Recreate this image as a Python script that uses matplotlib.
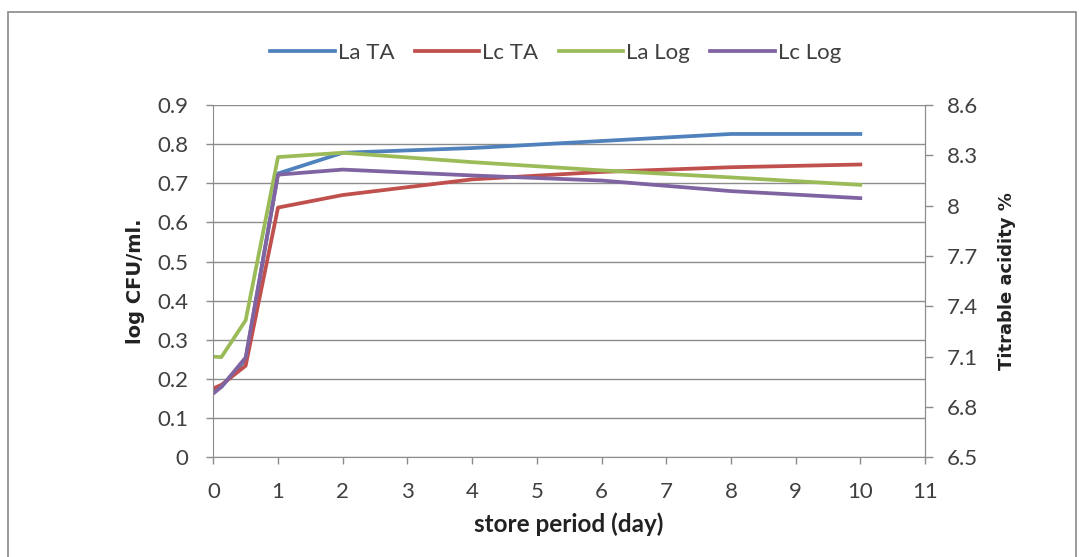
import numpy as np
import matplotlib.pyplot as plt
from matplotlib.patches import Rectangle

# storage days and readings
days = [0, 0.125, 0.5, 1, 2, 4, 6, 8, 10]
la_ta = [0.17, 0.18, 0.25, 0.725, 0.778, 0.79, 0.808, 0.826, 0.826]
lc_ta = [0.176, 0.185, 0.234, 0.638, 0.67, 0.71, 0.729, 0.741, 0.748]
la_log = [0.257, 0.256, 0.35, 0.767, 0.778, 0.754, 0.733, 0.715, 0.696]
lc_log = [0.163, 0.18, 0.255, 0.722, 0.735, 0.72, 0.707, 0.68, 0.662]

series = [("La TA", la_ta, "#4F81BD"),
          ("Lc TA", lc_ta, "#C0504D"),
          ("La Log", la_log, "#9BBB59"),
          ("Lc Log", lc_log, "#8064A2")]

left_ticks = [0, 0.1, 0.2, 0.3, 0.4, 0.5, 0.6, 0.7, 0.8, 0.9]
right_ticks = [6.5, 6.8, 7.1, 7.4, 7.7, 8, 8.3, 8.6]
x_ticks = list(range(0, 12))

plt.rcParams['font.family'] = ['Lato', 'DejaVu Sans']
txt = "#404040"
grid = "#8c8c8c"
fs = 16

fig = plt.figure(figsize=(10.79, 5.57), dpi=100)
fig.patches.append(Rectangle((8 / 1079, -0.1), 1068 / 1079, 1.1 - 12 / 557,
                             transform=fig.transFigure, fill=False,
                             edgecolor="#8a8a8a", linewidth=1.2))

ax = fig.add_axes([0.1977, 0.179, 0.8573 - 0.1977, 0.8115 - 0.179])
for name, vals, col in series:
    ax.plot(days, vals, color=col, linewidth=2.7, label=name)

ax.set_xlim(0, 11)
ax.set_ylim(0, 0.9)
ax.set_xticks(x_ticks)
ax.set_yticks(left_ticks)
ax.set_yticklabels(["0" if v == 0 else f"{v:g}" for v in left_ticks])
ax.yaxis.grid(True, color=grid, linewidth=1.0)
ax.set_axisbelow(True)
ax.spines["top"].set_visible(False)
for s in ("left", "bottom", "right"):
    ax.spines[s].set_color(grid)
ax.tick_params(axis="both", colors=grid, labelcolor=txt, labelsize=fs,
               length=5, width=1.0, direction="out")
ax.tick_params(axis="x", pad=13)
ax.tick_params(axis="y", pad=13)
ax.set_xlabel("store period (day)", fontsize=17.5, fontweight="bold",
              color="#222222", labelpad=7)
ax.set_ylabel("log CFU/ml.", fontsize=14, fontweight="bold",
              family="DejaVu Sans", color="#222222", labelpad=9)

ax2 = ax.twinx()
ax2.set_ylim(6.5, 8.6)
ax2.set_yticks(right_ticks)
ax2.set_yticklabels([f"{v:g}" for v in right_ticks])
for s in ("top", "left", "bottom"):
    ax2.spines[s].set_visible(False)
ax2.spines["right"].set_color(grid)
ax2.tick_params(axis="y", colors=grid, labelcolor=txt, labelsize=fs,
                length=6, width=1.0, pad=10)
ax2.set_ylabel("Titrable acidity %", fontsize=13, fontweight="bold",
               family="DejaVu Sans", color="#222222", rotation=90,
               labelpad=14)

fig.legend(*ax.get_legend_handles_labels(), loc="center",
           bbox_to_anchor=(0.515, 0.905), ncol=4, frameon=False,
           fontsize=fs, handlelength=2.9, handletextpad=0.15,
           columnspacing=0.9, labelcolor=txt)

fig.savefig("out.png", dpi=100)
